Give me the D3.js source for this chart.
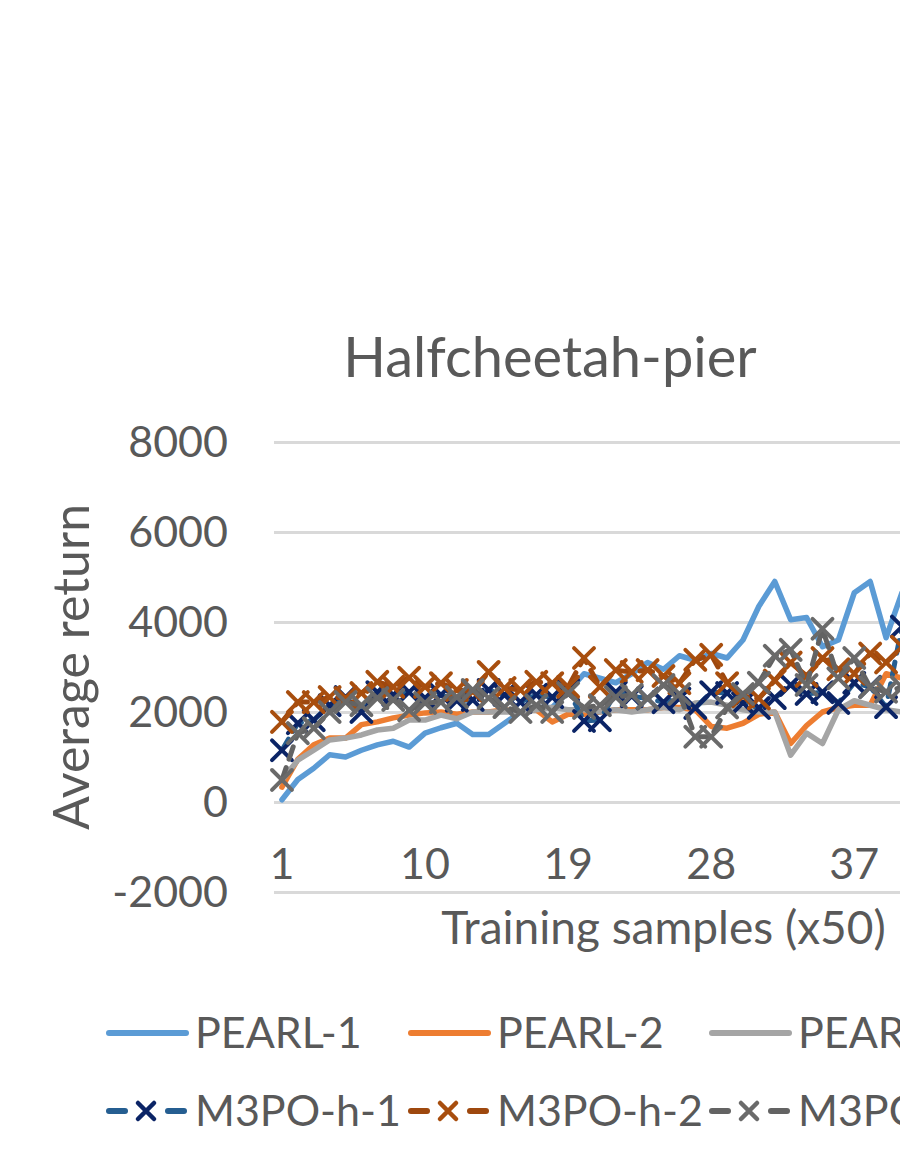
<!DOCTYPE html>
<html>
<head>
<meta charset="utf-8">
<script src="https://cdn.jsdelivr.net/npm/d3@7"></script>
<style>
html,body{margin:0;padding:0;background:#fff;overflow:hidden;width:900px;height:1164px}
svg{display:block}
text{font-family:Lato,"Open Sans","Noto Sans",sans-serif;fill:#595959}
</style>
</head>
<body>
<div id="chart"></div>
<script>
// ---- data ----
const chartTitle = "Halfcheetah-pier";
const xTitle = "Training samples (x50)";
const yTitle = "Average return";
const categories = [1,2,3,4,5,6,7,8,9,10,11,12,13,14,15,16,17,18,19,20,21,22,23,24,25,
  26,27,28,29,30,31,32,33,34,35,36,37,38,39,40,41,42,43,44,45,46,47,48,49];
const xTickLabels = ["1","10","19","28","37","46"];
const yTickValues = [-2000,0,2000,4000,6000,8000];
const seriesNames = ["PEARL-1","PEARL-2","PEARL-3","M3PO-h-1","M3PO-h-2","M3PO-h-3"];

const pearl1 = [50,500,750,1050,1000,1150,1270,1350,1220,1530,1650,1750,1500,1500,1750,2000,2100,2100,2450,2850,
  2750,2650,2850,3100,2950,3250,3150,3300,3200,3600,4350,4900,4050,4100,3450,3600,4650,4900,3650,4650];
const pearl2 = [330,950,1270,1420,1420,1720,1780,1870,1930,1980,2000,1950,2000,2000,2050,2000,2050,1780,1950,1950,
  2000,2050,2050,2050,2100,2100,2050,1680,1640,1750,1950,2000,1300,1700,2000,2100,2150,2150,2850,2750];
const pearl3 = [490,930,1150,1380,1420,1490,1600,1640,1820,1820,1930,1850,2000,2000,2000,2000,2050,2100,2050,2050,
  2000,2050,2000,2050,2100,2050,2200,2220,2150,2050,2000,2000,1040,1530,1300,2050,2250,2150,2050,2000];
const m3po1 = [1150,1750,1820,2150,2330,2000,2440,2380,2440,2310,2380,2250,2270,2490,2380,2220,2380,2330,2490,1800,
  1820,2440,2350,2300,2220,2300,2090,2440,2420,2200,2090,2310,2600,2400,2440,2200,2650,2560,2110,3900];
const m3po2 = [1780,2220,2220,2330,2310,2420,2670,2560,2760,2560,2640,2490,2450,2890,2530,2490,2670,2640,2560,3200,
  2560,2930,2890,2930,2800,2640,3160,3270,2640,2350,2300,2700,3100,2800,3200,2950,2850,3300,3100,3450];
const m3po3 = [490,1530,1640,2000,2220,2150,2310,2270,2040,2200,2220,2330,2490,2310,2110,2000,2150,2000,2420,2090,
  2150,2330,2380,2300,2600,2400,1450,1450,2100,2400,2650,3250,3380,2600,3850,2750,3200,2550,2450,2550];

const seriesValues = [pearl1, pearl2, pearl3, m3po1, m3po2, m3po3];
const lineColors   = ["#5B9BD5","#ED7D31","#A5A5A5","#255E91","#9E480E","#636363"];
const markerColors = [null, null, null, "#0B2466", "#A84E0E", "#6A6A6A"];

// ---- layout ----
const W = 1100, H = 1164;
const plot = {left: 274, right: 1053, top: 442, bottom: 892};

const svg = d3.select("#chart").append("svg").attr("width", W).attr("height", H);

const x = d3.scaleBand().domain(categories).range([plot.left, plot.right]);
const cx = c => x(c) + x.bandwidth() / 2;
const y = d3.scaleLinear().domain([-2000, 8000]).range([plot.bottom, plot.top]);

// gridlines
const yAxis = d3.axisLeft(y).tickValues(yTickValues).tickSize(-(plot.right - plot.left)).tickFormat(d => String(d));
const gy = svg.append("g").attr("transform", `translate(${plot.left},0)`).call(yAxis);
gy.select(".domain").remove();
gy.selectAll(".tick line").attr("stroke", "#D9D9D9").attr("stroke-width", 3);
gy.selectAll(".tick text").attr("x", -46).attr("dy", "0.34em")
  .style("font-size", "43px").attr("fill", "#595959").attr("text-anchor", "end");

// category labels
const xAxis = d3.axisBottom(x).tickValues(xTickLabels.map(Number)).tickSize(0).tickFormat(d => String(d));
const gx = svg.append("g").attr("transform", `translate(0,${y(0)})`).call(xAxis);
gx.select(".domain").remove();
gx.selectAll(".tick text").attr("y", 77).attr("dy", 0).style("font-size", "43px").attr("fill", "#595959");

// series
const line = d3.line().x((d, i) => cx(categories[i])).y(d => y(d));
seriesValues.forEach((vals, s) => {
  const g = svg.append("g");
  const dashed = s >= 3;
  g.append("path").datum(vals).attr("d", line).attr("fill", "none")
    .attr("stroke", lineColors[s]).attr("stroke-width", dashed ? 5 : 5.5)
    .attr("stroke-linejoin", "round").attr("stroke-linecap", "round")
    .attr("stroke-dasharray", dashed ? "13,9" : null);
  if (dashed) {
    g.selectAll("path.m").data(vals).enter().append("path").attr("class", "m")
      .attr("d", d3.symbol(d3.symbolX, 260)())
      .attr("transform", (d, i) => `translate(${cx(categories[i])},${y(d)})`)
      .attr("fill", "none").attr("stroke", markerColors[s]).attr("stroke-width", 4)
      .attr("stroke-linecap", "round");
  }
});

// titles
svg.append("text").attr("x", 550).attr("y", 377).attr("text-anchor", "middle")
  .style("font-size", "56px").text(chartTitle);
svg.append("text").attr("x", (plot.left + plot.right) / 2).attr("y", 944).attr("text-anchor", "middle")
  .style("font-size", "46px").text(xTitle);
svg.append("text").attr("transform", `translate(89,${(plot.top + plot.bottom) / 2}) rotate(-90)`)
  .attr("text-anchor", "middle").style("font-size", "50px").text(yTitle);

// legend
const legX = [106, 408, 709];
const legY = [1033, 1111];
seriesNames.forEach((name, s) => {
  const col = s % 3, row = Math.floor(s / 3);
  const lx = legX[col], ly = legY[row];
  const g = svg.append("g");
  if (s < 3) {
    g.append("line").attr("x1", lx + 3).attr("x2", lx + 80).attr("y1", ly).attr("y2", ly)
      .attr("stroke", lineColors[s]).attr("stroke-width", 6).attr("stroke-linecap", "round");
  } else {
    [[lx + 3, lx + 19], [lx + 62, lx + 78]].forEach(([a, b]) =>
      g.append("line").attr("x1", a).attr("x2", b).attr("y1", ly).attr("y2", ly)
        .attr("stroke", lineColors[s]).attr("stroke-width", 6).attr("stroke-linecap", "round"));
    g.append("path").attr("d", d3.symbol(d3.symbolX, 170)())
      .attr("transform", `translate(${lx + 40},${ly})`)
      .attr("fill", "none").attr("stroke", markerColors[s]).attr("stroke-width", 4.5)
      .attr("stroke-linecap", "round");
  }
  g.append("text").attr("x", lx + 89).attr("y", ly + 15).style("font-size", "43px").text(name);
});
</script>
</body>
</html>
